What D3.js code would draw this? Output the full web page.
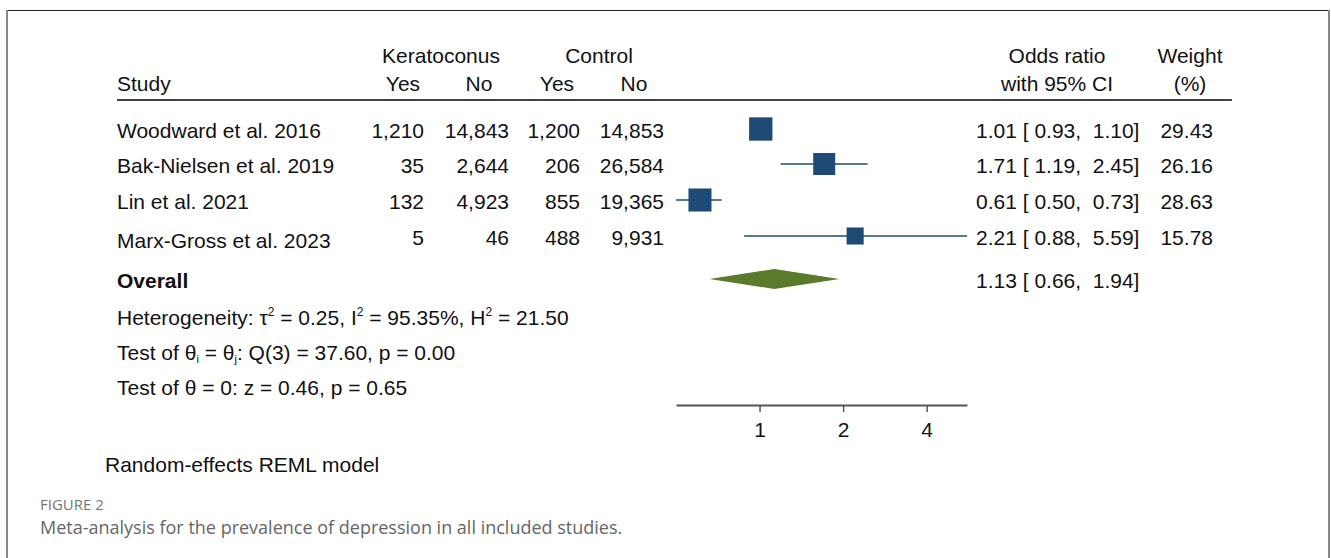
<!DOCTYPE html>
<html><head><meta charset="utf-8">
<script src="https://cdn.jsdelivr.net/npm/d3@7"></script>
<style>
html,body{margin:0;padding:0;background:#fff;}
svg text{font-family:"Liberation Sans",Arial,sans-serif;fill:#111;}
</style></head>
<body><svg id="c" width="1331" height="558"></svg>
<script>
const studies = ["Woodward et al. 2016","Bak-Nielsen et al. 2019","Lin et al. 2021","Marx-Gross et al. 2023"];
const kerYes = [1210, 35, 132, 5];
const kerNo = [14843, 2644, 4923, 46];
const conYes = [1200, 206, 855, 488];
const conNo = [14853, 26584, 19365, 9931];
const oddsRatio = [1.01, 1.71, 0.61, 2.21];
const ciLow = [0.93, 1.19, 0.50, 0.88];
const ciHigh = [1.10, 2.45, 0.73, 5.59];
const weights = [29.43, 26.16, 28.63, 15.78];
const overallOR = [1.13, 0.66, 1.94];
const axisTicks = [1, 2, 4];

const svg = d3.select("#c");
const FS = 21;
const navy = "#1d4b75", green = "#5a7a2c";

// frame
svg.append("line").attr("x1",7).attr("x2",1329).attr("y1",10.5).attr("y2",10.5).attr("stroke","#222").attr("stroke-width",1);
svg.append("line").attr("x1",7).attr("x2",7).attr("y1",10).attr("y2",558).attr("stroke","#888").attr("stroke-width",2);
svg.append("line").attr("x1",1329).attr("x2",1329).attr("y1",10).attr("y2",558).attr("stroke","#888").attr("stroke-width",2);

const x = d3.scaleLog().domain([d3.min(ciLow), d3.max(ciHigh)]).range([676, 967]);
const rowY = [130, 165, 201, 237];
const fmt = d3.format(",");
const f2 = d3.format(".2f");
const pad = v => (v < 10 ? " " : "") + f2(v);

function txt(s, xx, yy, anchor, opts={}) {
  const t = svg.append("text").attr("x", xx).attr("y", yy).attr("dy","0.36em")
    .attr("text-anchor", anchor||"start").style("font-size",(opts.fs||FS)+"px")
    .style("white-space","pre").attr("xml:space","preserve").text(s);
  if (opts.bold) t.style("font-weight","bold");
  return t;
}

// headers
txt("Keratoconus", 441, 55, "middle");
txt("Control", 599, 55, "middle");
txt("Odds ratio", 1057, 55, "middle");
txt("Weight", 1190, 55, "middle");
txt("Study", 117, 83, "start");
txt("Yes", 403, 83, "middle");
txt("No", 479, 83, "middle");
txt("Yes", 557, 83, "middle");
txt("No", 634, 83, "middle");
txt("with 95% CI", 1057, 83, "middle");
txt("(%)", 1190, 83, "middle");
svg.append("line").attr("x1",117).attr("x2",1232).attr("y1",100).attr("y2",100).attr("stroke","#444").attr("stroke-width",2);

const colRight = [424, 509, 580, 664];
const cols = [kerYes, kerNo, conYes, conNo];
studies.forEach((s,i)=>{
  txt(s, 117, rowY[i] + (i===3?3:0), "start");
  cols.forEach((c,j)=> txt(fmt(c[i]), colRight[j], rowY[i], "end"));
  txt(`${f2(oddsRatio[i])} [${pad(ciLow[i])}, ${pad(ciHigh[i])}]`, 976, rowY[i], "start");
  txt(f2(weights[i]), 1213, rowY[i], "end");
});

// markers
const g = svg.append("g");
studies.forEach((s,i)=>{
  const y = rowY[i]-1;
  g.append("line").attr("x1",x(ciLow[i])).attr("x2",x(ciHigh[i])).attr("y1",y).attr("y2",y)
    .attr("stroke",navy).attr("stroke-width",1.6);
  const side = 4.3*Math.sqrt(weights[i]);
  g.append("rect").attr("x",x(oddsRatio[i])-side/2).attr("y",y-side/2).attr("width",side).attr("height",side)
    .attr("fill",navy);
});

// overall
const oy = 279;
txt("Overall", 117, 280, "start", {bold:true});
svg.append("path").attr("d",`M${x(overallOR[1])},${oy} L${x(overallOR[0])},${oy-10} L${x(overallOR[2])},${oy} L${x(overallOR[0])},${oy+10} Z`)
  .attr("fill",green);
txt(`${f2(overallOR[0])} [${pad(overallOR[1])}, ${pad(overallOR[2])}]`, 976, 280, "start");

// stats lines
function sup(t, s) {
  t.append("tspan").attr("dy","-9px").style("font-size","12px").text(s);
  return t.append("tspan").attr("dy","9px");
}
const h = txt("", 117, 317, "start");
h.append("tspan").text("Heterogeneity: τ");
sup(h,"2").text(" = 0.25, I");
sup(h,"2").text(" = 95.35%, H");
sup(h,"2").text(" = 21.50");

const t2 = txt("", 117, 352, "start");
t2.append("tspan").text("Test of θ");
t2.append("tspan").attr("dy","3px").style("font-size","11px").text("i");
t2.append("tspan").attr("dy","-3px").text(" = θ");
t2.append("tspan").attr("dy","3px").style("font-size","11px").text("j");
t2.append("tspan").attr("dy","-3px").text(": Q(3) = 37.60, p = 0.00");

txt("Test of θ = 0: z = 0.46, p = 0.65", 117, 387, "start");

// axis
const ax = svg.append("g").attr("transform","translate(0,405)")
  .call(d3.axisBottom(x).tickValues(axisTicks).tickFormat(d3.format("d")).tickSize(7).tickSizeOuter(0).tickPadding(10));
ax.select(".domain").attr("stroke","#555").attr("stroke-width",2);
ax.selectAll(".tick line").attr("stroke","#555").attr("stroke-width",1.5);
ax.selectAll(".tick text").style("font-size",FS+"px").style("font-family","Liberation Sans, Arial, sans-serif").attr("fill","#111");

txt("Random-effects REML model", 105, 464, "start");

svg.append("text").attr("x",40).attr("y",510).style("font-family","Open Sans, sans-serif").style("font-size","15px").style("fill","#777").text("FIGURE 2");
svg.append("text").attr("x",40).attr("y",534).style("font-family","Open Sans, sans-serif").style("font-size","18px").style("fill","#666").text("Meta-analysis for the prevalence of depression in all included studies.");
</script></body></html>
